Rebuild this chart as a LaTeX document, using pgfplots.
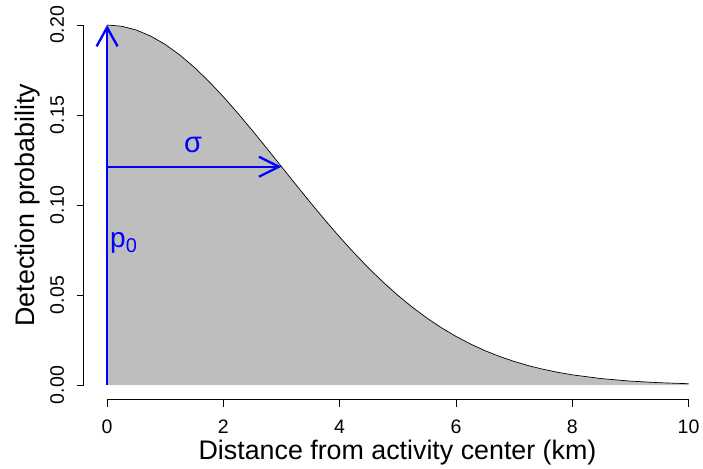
\documentclass[border=0pt]{standalone}
\usepackage{pgfplots}
\pgfplotsset{compat=1.18}
\usepackage{pgfplotstable}
\usepackage{fontspec}
\setmainfont{Liberation Sans}
\usetikzlibrary{arrows.meta}
\definecolor{fillgray}{RGB}{190,190,190}

% half-normal detection curve, p0 = 0.2, sigma = 3
\pgfplotstableread{
d     p
0     0.200000
0.25  0.199307
0.5   0.197241
0.75  0.193847
1     0.189192
1.25  0.183371
1.5   0.176499
1.75  0.168709
2     0.160147
2.25  0.150968
2.5   0.141330
2.75  0.131392
3     0.121306
3.25  0.111222
3.5   0.101267
3.75  0.091567
4     0.082222
4.25  0.073319
4.5   0.064930
4.75  0.057103
5     0.049870
5.25  0.043253
5.5   0.037256
5.75  0.031866
6     0.027067
6.25  0.022834
6.5   0.019128
6.75  0.015912
7     0.013146
7.25  0.010786
7.5   0.008787
7.75  0.007110
8     0.005713
8.5   0.003613
9     0.002222
9.5   0.001329
10    0.000773
}\curve

\begin{document}
\begin{tikzpicture}
\begin{axis}[
  scale only axis,
  width=618.5pt, height=388.8pt,
  xmin=-0.40, xmax=10.24,
  ymin=-0.008, ymax=0.208,
  enlargelimits=false,
  clip=false,
  axis line style={draw=none},
  xtick={0,2,4,6,8,10},
  ytick={0,0.05,0.1,0.15,0.2},
  xtick pos=bottom, ytick pos=left,
  tick align=outside,
  major tick length=7pt,
  tick style={black, line width=0.8pt},
  /pgf/number format/assume math mode=true,
  xticklabel={\pgfmathprintnumber{\tick}},
  yticklabel={\pgfmathprintnumber[fixed, fixed zerofill, precision=2]{\tick}},
  xticklabel style={font=\fontsize{19.5}{23}\selectfont, anchor=base, yshift=-27pt},
  yticklabel style={font=\fontsize{19.5}{23}\selectfont, xshift=-13pt, rotate=90, anchor=base},
  xlabel={Distance from activity center (km)},
  ylabel={Detection probability},
  label style={font=\fontsize{26.8}{30}\selectfont},
  xlabel style={at={(axis description cs:0.507,-0.1533)}, anchor=base},
  ylabel style={at={(axis description cs:-0.0805,0.5)}, anchor=base, rotate=0},
]
% axis lines spanning the ticks only
\draw[black, line width=0.8pt] (axis cs:0,-0.008) -- (axis cs:10,-0.008);
\draw[black, line width=0.8pt] (axis cs:-0.40,0) -- (axis cs:-0.40,0.2);

\addplot[fill=fillgray, draw=none] table[x=d, y=p] {\curve} \closedcycle;
\addplot[black, line width=0.7pt] table[x=d, y=p] {\curve};

\addplot[blue, line width=2.3pt, -{Straight Barb[length=19pt, width=21pt]}]
  coordinates {(0,0) (0,0.2)};
\addplot[blue, line width=2.3pt, -{Straight Barb[length=20pt, width=20pt]}]
  coordinates {(0,0.121306) (3,0.121306)};

\node[blue, font=\fontsize{29}{32}\selectfont] at (axis cs:1.48,0.1333) {σ};
\node[blue, anchor=base west, inner sep=0pt] at (axis cs:0.05,0.0767)
  {\fontsize{28}{30}\selectfont p\raisebox{-5pt}{\fontsize{20}{22}\selectfont 0}};
\end{axis}
\pgfresetboundingbox
\path ([shift={(-83.8pt,-68.6pt)}]current axis.south west)
  rectangle ([shift={(0.5pt,10.6pt)}]current axis.north east);
\end{tikzpicture}
\end{document}
